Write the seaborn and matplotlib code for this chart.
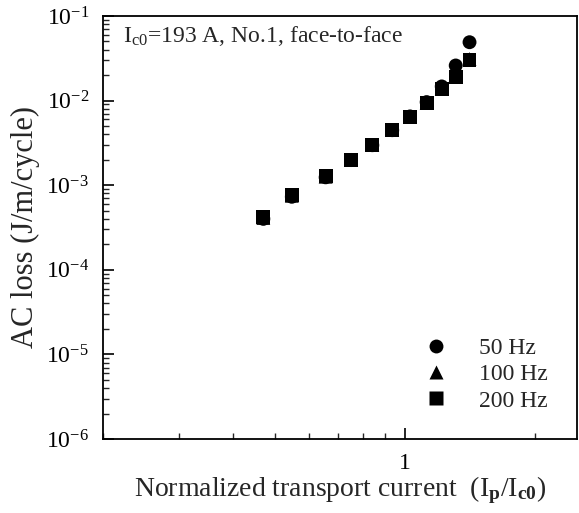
import matplotlib

matplotlib.use("Agg")
import matplotlib.pyplot as plt
import numpy as np
import pandas as pd
import seaborn as sns
from matplotlib.ticker import FixedLocator, LogLocator, NullFormatter

# normalized transport current Ip/Ic0
current = [0.47, 0.547, 0.655, 0.75, 0.84, 0.934, 1.027, 1.122, 1.216, 1.31, 1.41]
# AC loss (J/m/cycle) per frequency
loss_50hz = [4.0e-4, 7.3e-4, 1.24e-3, 1.98e-3, 2.97e-3, 4.47e-3, 6.5e-3, 9.6e-3, 1.47e-2, 2.6e-2, 4.9e-2]
loss_100hz = [4.1e-4, 7.5e-4, 1.26e-3, 2.0e-3, 3.0e-3, 4.5e-3, 6.5e-3, 9.4e-3, 1.4e-2, 2.0e-2, 3.1e-2]
loss_200hz = [4.2e-4, 7.6e-4, 1.28e-3, 2.0e-3, 3.0e-3, 4.5e-3, 6.4e-3, 9.3e-3, 1.36e-2, 1.9e-2, 3.0e-2]
freq_labels = ["50 Hz", "100 Hz", "200 Hz"]

sns.set_style("ticks")
plt.rcParams["font.family"] = ["Liberation Serif", "DejaVu Serif"]
plt.rcParams["mathtext.fontset"] = "custom"
plt.rcParams["mathtext.rm"] = "Liberation Serif"
plt.rcParams["mathtext.it"] = "Liberation Serif:italic"
plt.rcParams["mathtext.bf"] = "Liberation Serif:bold"
plt.rcParams["mathtext.default"] = "regular"

df = pd.concat(
    [
        pd.DataFrame({"current": current, "loss": vals, "freq": lab})
        for vals, lab in zip([loss_50hz, loss_100hz, loss_200hz], freq_labels)
    ],
    ignore_index=True,
)

fig = plt.figure(figsize=(5.79, 5.13), dpi=100)
ax = fig.add_axes([103 / 579, 1 - 439 / 513, 474 / 579, 423 / 513])

sns.scatterplot(
    data=df,
    x="current",
    y="loss",
    hue="freq",
    style="freq",
    hue_order=freq_labels,
    style_order=freq_labels,
    palette=["black"] * 3,
    markers={"50 Hz": "o", "100 Hz": "^", "200 Hz": "s"},
    s=100,
    edgecolor="none",
    ax=ax,
)

ax.set_xscale("log")
ax.set_yscale("log")
ax.set_xlim(0.2, 2.5)
ax.set_ylim(1e-6, 1e-1)

ax.xaxis.set_major_locator(FixedLocator([1.0]))
ax.xaxis.set_major_formatter(plt.FuncFormatter(lambda v, p: "1"))
ax.xaxis.set_minor_locator(LogLocator(base=10, subs=np.arange(2, 10)))
ax.xaxis.set_minor_formatter(NullFormatter())
ax.yaxis.set_major_locator(LogLocator(base=10, numticks=10))
ax.yaxis.set_minor_locator(LogLocator(base=10, subs=np.arange(2, 10), numticks=10))
ax.yaxis.set_minor_formatter(NullFormatter())

ax.tick_params(which="major", direction="in", length=8, width=1.2, labelsize=17, pad=10, colors="black")
ax.tick_params(which="minor", direction="in", length=4, width=1.0)
for sp in ax.spines.values():
    sp.set_linewidth(1.3)
    sp.set_color("black")

ax.set_xlabel("Normalized transport current  (I$_\\mathbf{p}$/I$_\\mathbf{c0}$)", fontsize=20, labelpad=0)
ax.set_ylabel("AC loss (J/m/cycle)", fontsize=22, labelpad=4)

ax.text(0.042, 0.953, "I$_{c0}$=193 A, No.1, face-to-face", transform=ax.transAxes,
        fontsize=17, va="center", ha="left")

leg = ax.legend(loc="center", bbox_to_anchor=(0.808, 0.152), frameon=False, fontsize=17,
                handlelength=1.0, handletextpad=1.3, labelspacing=0.2, borderpad=0.0)
for h in leg.legend_handles:
    h.set_markersize(10)
    h.set_color("black")

fig.savefig("out.png", dpi=100)
